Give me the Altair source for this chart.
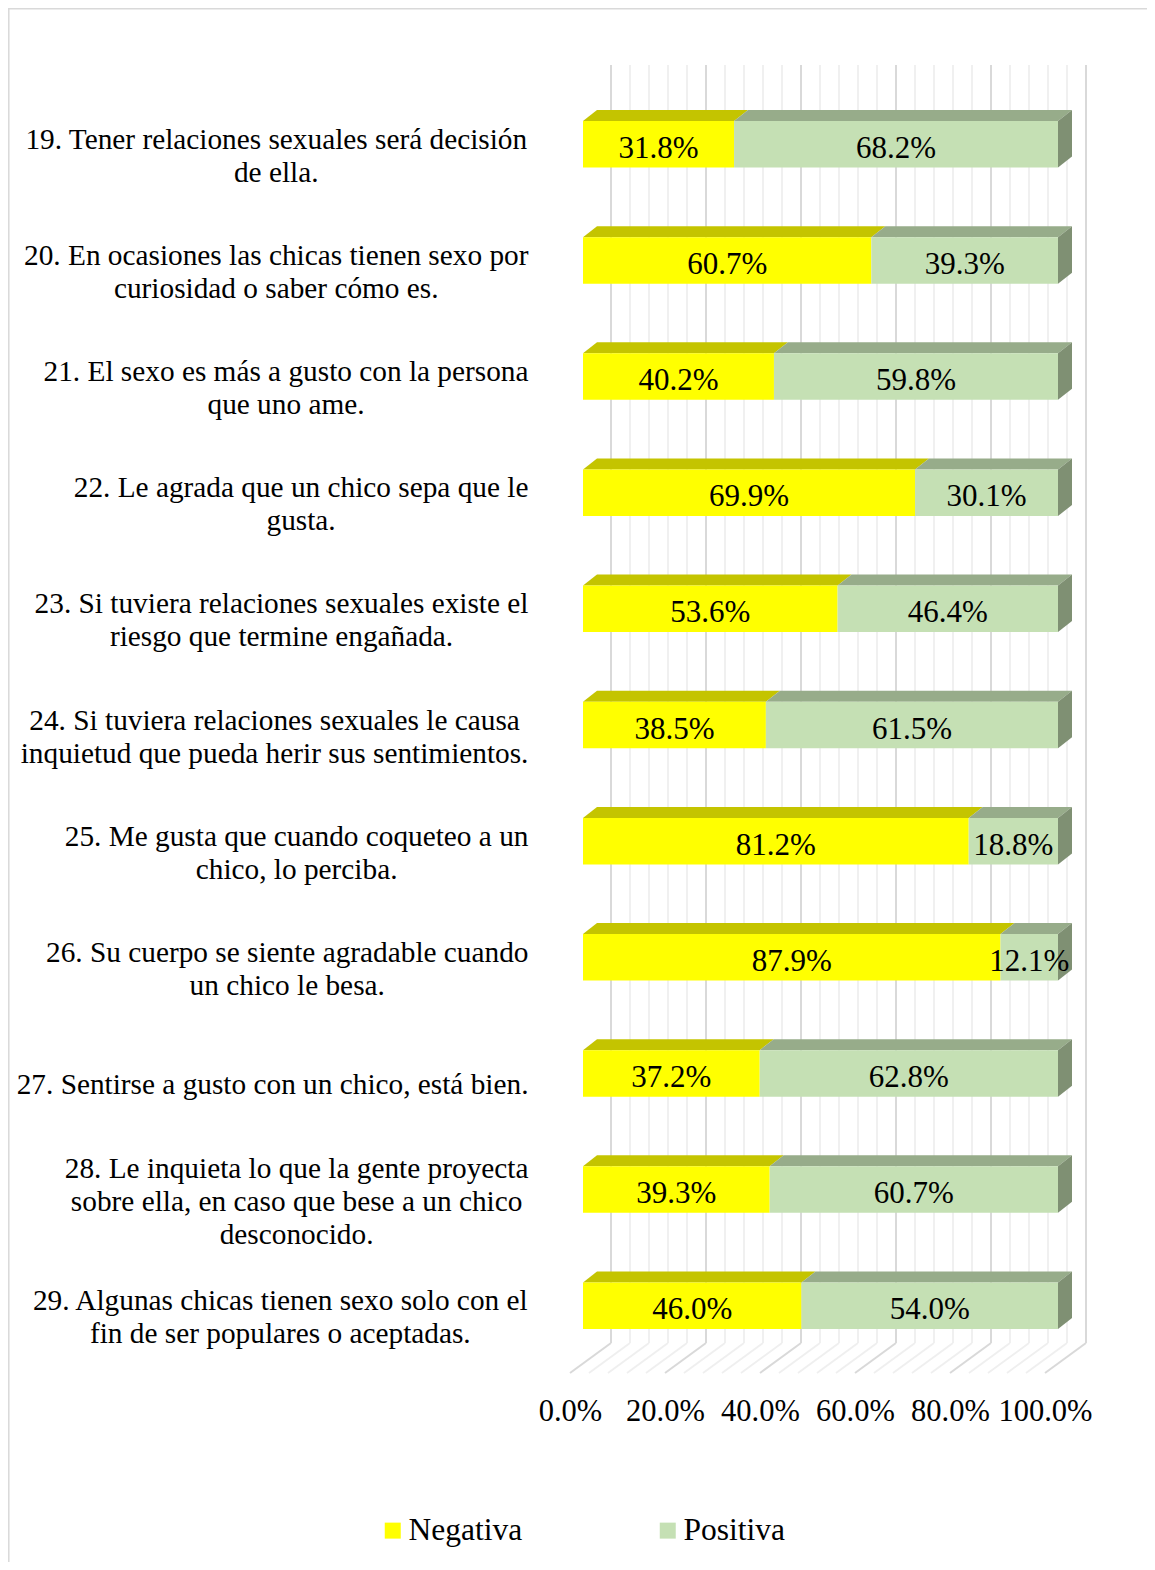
import altair as alt
import pandas as pd

# ---------------- data ----------------
etiquetas = [
    ["19. Tener relaciones sexuales será decisión", "de ella."],
    ["20. En ocasiones las chicas tienen sexo por", "curiosidad o saber cómo es."],
    ["21. El sexo es más a gusto con la persona", "que uno ame."],
    ["22. Le agrada que un chico sepa que le", "gusta."],
    ["23. Si tuviera relaciones sexuales existe el", "riesgo que termine engañada."],
    ["24. Si tuviera relaciones sexuales le causa", "inquietud que pueda herir sus sentimientos."],
    ["25. Me gusta que cuando coqueteo a un", "chico, lo perciba."],
    ["26. Su cuerpo se siente agradable cuando", "un chico le besa."],
    ["27. Sentirse a gusto con un chico, está bien."],
    ["28. Le inquieta lo que la gente proyecta", "sobre ella, en caso que bese a un chico", "desconocido."],
    ["29. Algunas chicas tienen sexo solo con el", "fin de ser populares o aceptadas."],
]
negativa = [31.8, 60.7, 40.2, 69.9, 53.6, 38.5, 81.2, 87.9, 37.2, 39.3, 46.0]
positiva = [68.2, 39.3, 59.8, 30.1, 46.4, 61.5, 18.8, 12.1, 62.8, 60.7, 54.0]
series = ["Negativa", "Positiva"]
ticks = [0, 20, 40, 60, 80, 100]
minor_step = 4

# ---------------- style / layout ----------------
FONT = "Liberation Serif"
C_FRONT = {"Negativa": "#FFFF00", "Positiva": "#C5E0B4"}
C_TOP = {"Negativa": "#C4C400", "Positiva": "#97AC8A"}
C_SIDE = "#7F9073"
C_MAJOR = "#D9D9D9"
C_MINOR = "#EFEFEF"

W, H = 475, 1308
PX = 100.0 / W                 # percent units per pixel
BAR_X = 13 * PX                # bar front plane offset from floor front
DEPTH_X = 14 * PX              # bar depth (horizontal)
WALL_X = 41 * PX               # back wall offset
ROW_PX = 116.14
Y_TOP = -0.6828
Y_BOT = Y_TOP + H / ROW_PX
HALF = 23.25 / ROW_PX
DEPTH_Y = 11 / ROW_PX
WALL_BOTTOM = Y_TOP + (1343 - 65) / ROW_PX
LABEL_RIGHT = 528.5 - 570      # px relative to plot origin
CAT_SIZE = 29.3
LINE_H = 33.0 / ROW_PX

TIMES = dict(zip("abcdefghijklmnopqrstuvwxyz",
                 [444, 500, 444, 500, 444, 333, 500, 500, 278, 278, 500, 278, 778,
                  500, 500, 500, 500, 333, 389, 278, 500, 500, 722, 500, 500, 444]))
TIMES.update(dict(zip("ABCDEFGHIJKLMNOPQRSTUVWXYZ",
                      [722, 667, 667, 722, 611, 556, 722, 722, 333, 389, 722, 611, 889,
                       722, 722, 556, 722, 667, 556, 611, 722, 722, 944, 722, 722, 611])))
TIMES.update({"á": 444, "é": 444, "í": 278, "ó": 500, "ú": 500, "ñ": 500,
              " ": 250, ".": 250, ",": 250, "%": 833})
for d in "0123456789":
    TIMES[d] = 500


def text_w(s, size):
    return sum(TIMES.get(c, 500) for c in s) * size / 1000.0


xs = alt.Scale(domain=[0, 100], nice=False, zero=False)
ys = alt.Scale(domain=[Y_TOP, Y_BOT], reverse=True, nice=False, zero=False)
x_axis = alt.Axis(values=ticks, title=None, domain=False, ticks=False, grid=False,
                  labelExpr="format(datum.value, '.1f') + '%'",
                  labelFont=FONT, labelFontSize=30.5, labelColor="#000000",
                  labelPadding=23, labelFlush=False, labelOverlap=False)

# ---------------- tables ----------------
front_rows, top_rows, side_rows, lab_rows = [], [], [], []
for i, (n, p) in enumerate(zip(negativa, positiva)):
    segs = [("Negativa", 0.0, n), ("Positiva", n, n + p)]
    for s, a, b in segs:
        val = b - a
        front_rows.append({"idx": i, "serie": s, "xa": a + BAR_X, "xb": b + BAR_X,
                           "ya": i - HALF, "yb": i + HALF,
                           "xm": (a + b) / 2 + BAR_X, "txt": f"{val:.1f}%"})
        face = f"{i}-{s}"
        top_rows.append({"face": face, "col": C_TOP[s], "yy": i - HALF,
                         "xa": a + BAR_X, "xb": b + BAR_X})
        top_rows.append({"face": face, "col": C_TOP[s], "yy": i - HALF - DEPTH_Y,
                         "xa": a + BAR_X + DEPTH_X, "xb": b + BAR_X + DEPTH_X})
    end = n + p
    side_rows.append({"face": f"s{i}", "xx": end + BAR_X, "ya": i - HALF, "yb": i + HALF})
    side_rows.append({"face": f"s{i}", "xx": end + BAR_X + DEPTH_X,
                      "ya": i - HALF - DEPTH_Y, "yb": i + HALF - DEPTH_Y})
    lines = etiquetas[i]
    wblock = max(text_w(t, CAT_SIZE) for t in lines)
    nl = len(lines)
    for k, t in enumerate(lines):
        lab_rows.append({"idx": i, "ly": i + (k - (nl - 1) / 2) * LINE_H, "txt": t,
                         "lx": LABEL_RIGHT - wblock / 2})

grid_rows = []
for v in range(0, 101, minor_step):
    major = v in ticks
    grid_rows.append({"v": v, "gx": v + WALL_X, "gy0": Y_TOP, "gy1": WALL_BOTTOM,
                      "fx0": v, "fy0": Y_BOT, "fx1": v + WALL_X, "fy1": WALL_BOTTOM,
                      "col": C_MAJOR if major else C_MINOR,
                      "sw": 2.0 if major else 1.8})

front = pd.DataFrame(front_rows)
top = pd.DataFrame(top_rows)
side = pd.DataFrame(side_rows)
labs = pd.DataFrame(lab_rows)
grid = pd.DataFrame(grid_rows)

# ---------------- layers ----------------
wall = alt.Chart(grid).mark_rule().encode(
    x=alt.X("gx:Q", scale=xs, axis=x_axis),
    y=alt.Y("gy0:Q", scale=ys, axis=None),
    y2="gy1:Q",
    color=alt.Color("col:N", scale=None),
    strokeWidth=alt.StrokeWidth("sw:Q", scale=None),
)

floor = alt.Chart(grid).mark_rule().encode(
    x=alt.X("fx0:Q", scale=xs, axis=x_axis),
    x2="fx1:Q",
    y=alt.Y("fy0:Q", scale=ys, axis=None),
    y2="fy1:Q",
    color=alt.Color("col:N", scale=None),
    strokeWidth=alt.StrokeWidth("sw:Q", scale=None),
)

tops = alt.Chart(top).mark_area(orient="horizontal", opacity=1).encode(
    y=alt.Y("yy:Q", scale=ys, axis=None, stack=None),
    x=alt.X("xa:Q", scale=xs, axis=x_axis, stack=None),
    x2="xb:Q",
    detail="face:N",
    color=alt.Color("col:N", scale=None),
)

sides = alt.Chart(side).mark_area(orient="vertical", opacity=1, color=C_SIDE).encode(
    x=alt.X("xx:Q", scale=xs, axis=x_axis, stack=None),
    y=alt.Y("ya:Q", scale=ys, axis=None, stack=None),
    y2="yb:Q",
    detail="face:N",
)

fronts = alt.Chart(front).mark_rect().encode(
    x=alt.X("xa:Q", scale=xs, axis=x_axis),
    x2="xb:Q",
    y=alt.Y("ya:Q", scale=ys, axis=None),
    y2="yb:Q",
    color=alt.Color("serie:N",
                    scale=alt.Scale(domain=series, range=[C_FRONT[s] for s in series]),
                    legend=alt.Legend(title=None, orient="none", legendX=-193, legendY=1449.5,
                                      direction="horizontal", symbolType="square",
                                      symbolSize=256, symbolStrokeWidth=0,
                                      labelFont=FONT, labelFontSize=31.5,
                                      labelColor="#000000", labelOffset=0,
                                      columnPadding=129, padding=0)),
)

values = alt.Chart(front).mark_text(font=FONT, fontSize=31, color="#000000",
                                    baseline="middle", align="center", dy=4.5).encode(
    x=alt.X("xm:Q", scale=xs, axis=x_axis),
    y=alt.Y("idx:Q", scale=ys, axis=None),
    text="txt:N",
)

cats = alt.Chart(labs).mark_text(font=FONT, fontSize=CAT_SIZE, color="#000000",
                                 baseline="middle", align="center", dy=12).encode(
    x=alt.X("lx:Q", scale=None),
    y=alt.Y("ly:Q", scale=ys, axis=None),
    text="txt:N",
)

one = pd.DataFrame({"k": [0]})
frame_top = alt.Chart(one).mark_rule(color="#D9D9D9", strokeWidth=1.5).encode(
    x=alt.value(-562), x2=alt.value(577), y=alt.value(-56.2))
frame_left = alt.Chart(one).mark_rule(color="#D9D9D9", strokeWidth=1.5).encode(
    x=alt.value(-561.2), y=alt.value(-57), y2=alt.value(1497))

chart = alt.layer(
    frame_top, frame_left, wall, floor, tops, sides, fronts, values, cats
).resolve_scale(color="independent", strokeWidth="independent").properties(
    width=W, height=H,
    padding={"left": 562, "top": 57, "right": 102, "bottom": 189},
    autosize=alt.AutoSizeParams(type="none"),
    background="#FFFFFF",
).configure_view(stroke=None)

chart.save("out.html", embed_options={"renderer": "svg", "actions": False})
